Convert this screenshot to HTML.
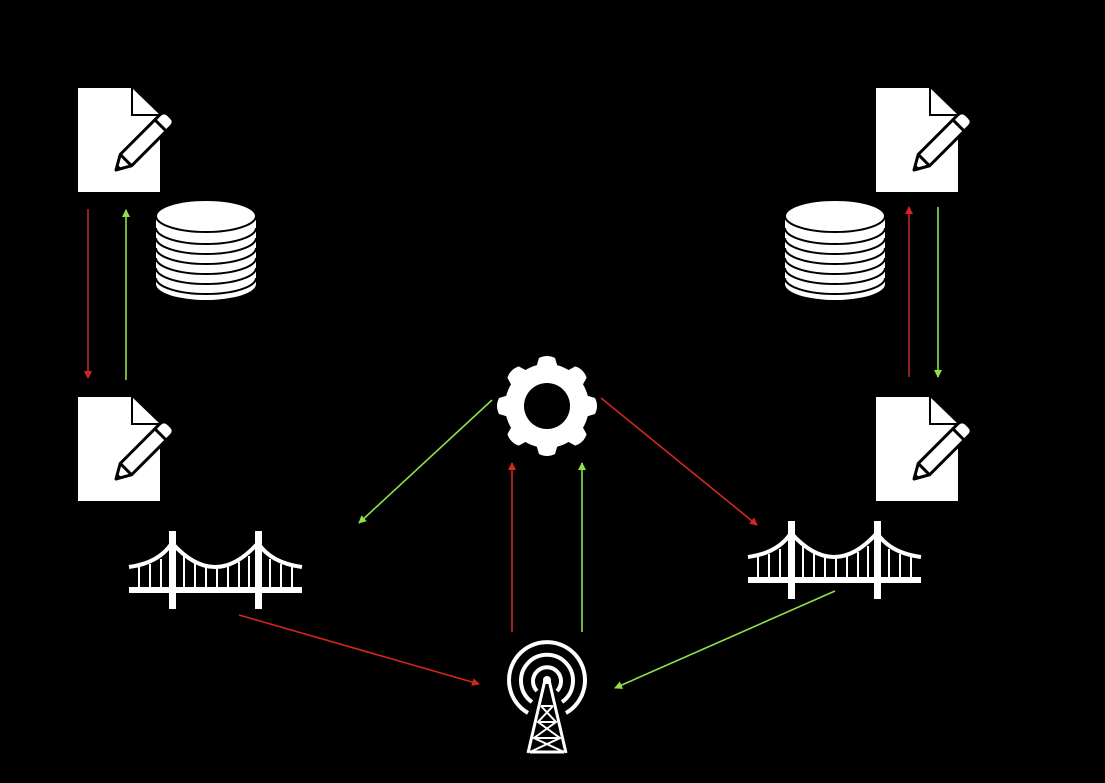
<!DOCTYPE html>
<html><head><style>html,body{margin:0;padding:0;background:#000;}svg{display:block}</style></head>
<body>
<svg width="1105" height="783" viewBox="0 0 1105 783" xmlns="http://www.w3.org/2000/svg">
<defs>
<g id="doc">
  <path d="M0 0 H54 L82 27 V104 H0 Z" fill="#fff"/>
  <path d="M54 0 V27 H82" fill="none" stroke="#000" stroke-width="2"/>
  <g transform="translate(38,82) rotate(-45)">
    <path d="M0 0 L14 -8 H70 Q76 -8 76 -2 V2 Q76 8 70 8 H14 Z" fill="#fff" stroke="#000" stroke-width="3" stroke-linejoin="round"/>
    <line x1="14" y1="-8" x2="14" y2="8" stroke="#000" stroke-width="3"/>
    <line x1="63" y1="-8" x2="63" y2="8" stroke="#000" stroke-width="3"/>
    <path d="M0 0 L5 -3 V3 Z" fill="#000"/>
  </g>
</g>
<g id="db">
  <rect x="-50" y="16" width="100" height="68" fill="#fff"/>
  <ellipse cx="0" cy="84" rx="50" ry="16" fill="#fff"/>
  <ellipse cx="0" cy="16" rx="50" ry="16" fill="#fff" stroke="#000" stroke-width="2"/>
  <g fill="none" stroke="#000" stroke-width="2">
    <path d="M-50 28 A50 16 0 0 0 50 28"/>
    <path d="M-50 38 A50 16 0 0 0 50 38"/>
    <path d="M-50 48 A50 16 0 0 0 50 48"/>
    <path d="M-50 58 A50 16 0 0 0 50 58"/>
    <path d="M-50 68 A50 16 0 0 0 50 68"/>
    <path d="M-50 78 A50 16 0 0 0 50 78"/>
  </g>
</g>
<g id="bridge" fill="none" stroke="#fff">
  <rect x="0" y="56" width="173" height="6" fill="#fff" stroke="none"/>
  <rect x="40" y="0" width="7" height="78" fill="#fff" stroke="none"/>
  <rect x="126" y="0" width="7" height="78" fill="#fff" stroke="none"/>
  <path d="M0 36 Q30 32 43 12 Q86 60 129 12 Q142 32 173 36" stroke-width="4"/>
  <g stroke-width="2">
    <path d="M10 35V56M21 33V56M32 28V56M55 25V56M66 31V56M77 34V56M88 35V56M99 34V56M110 31V56M120 25V56M141 28V56M152 33V56M163 35V56"/>
  </g>
</g>
<marker id="ar" markerWidth="8" markerHeight="8" refX="7" refY="4" orient="auto" markerUnits="userSpaceOnUse"><path d="M0 0L8 4L0 8Z" fill="#d2261f"/></marker>
<marker id="ag" markerWidth="8" markerHeight="8" refX="7" refY="4" orient="auto" markerUnits="userSpaceOnUse"><path d="M0 0L8 4L0 8Z" fill="#8fe04a"/></marker>
</defs>

<use href="#doc" x="78" y="88"/>
<use href="#doc" x="78" y="397"/>
<use href="#doc" x="876" y="88"/>
<use href="#doc" x="876" y="397"/>
<use href="#db" x="206" y="200"/>
<use href="#db" x="835" y="200"/>
<use href="#bridge" x="129" y="531"/>
<use href="#bridge" x="748" y="521"/>

<!-- gear -->
<g transform="translate(547,406)">
  <g fill="#fff">
    <circle r="42"/>
    <g id="teeth">
      <path d="M-11 -38 L-8 -48 Q0 -52 8 -48 L11 -38 Z"/>
    </g>
    <use href="#teeth" transform="rotate(45)"/>
    <use href="#teeth" transform="rotate(90)"/>
    <use href="#teeth" transform="rotate(135)"/>
    <use href="#teeth" transform="rotate(180)"/>
    <use href="#teeth" transform="rotate(225)"/>
    <use href="#teeth" transform="rotate(270)"/>
    <use href="#teeth" transform="rotate(315)"/>
  </g>
  <circle r="23" fill="#000"/>
</g>

<!-- tower -->
<g fill="none" stroke="#fff" stroke-width="4">
  <path d="M528 713 A38 38 0 1 1 566 713"/>
  <path d="M532 702 A26 26 0 1 1 562 702"/>
  <path d="M537 691 A14 14 0 1 1 557 691"/>
</g>
<circle cx="547" cy="680" r="4" fill="#fff"/>
<g stroke="#fff" stroke-width="3" fill="none">
  <path d="M545 680 L528 753 M549 680 L566 753"/>
  <path d="M530 752 H564" />
  <g stroke-width="2">
    <path d="M541 706 H553 M538 722 H556 M534 738 H560"/>
    <path d="M541 706 L556 722 L534 738 L564 752 M553 706 L538 722 L560 738 L530 752"/>
  </g>
</g>

<!-- arrows -->
<g stroke-width="1.6" fill="none">
  <line x1="88" y1="209" x2="88" y2="378" stroke="#b52a22" marker-end="url(#ar)"/>
  <line x1="126" y1="380" x2="126" y2="210" stroke="#8fe04a" marker-end="url(#ag)"/>
  <line x1="909" y1="377" x2="909" y2="207" stroke="#b52a22" marker-end="url(#ar)"/>
  <line x1="938" y1="207" x2="938" y2="377" stroke="#8fe04a" marker-end="url(#ag)"/>
  <line x1="492" y1="400" x2="359" y2="523" stroke="#8fe04a" marker-end="url(#ag)"/>
  <line x1="601" y1="398" x2="757" y2="525" stroke="#d2261f" marker-end="url(#ar)"/>
  <line x1="512" y1="632" x2="512" y2="463" stroke="#d2261f" marker-end="url(#ar)"/>
  <line x1="582" y1="632" x2="582" y2="463" stroke="#8fe04a" marker-end="url(#ag)"/>
  <line x1="239" y1="615" x2="479" y2="684" stroke="#d2261f" marker-end="url(#ar)"/>
  <line x1="835" y1="591" x2="615" y2="688" stroke="#8fe04a" marker-end="url(#ag)"/>
</g>
</svg>
</body></html>
